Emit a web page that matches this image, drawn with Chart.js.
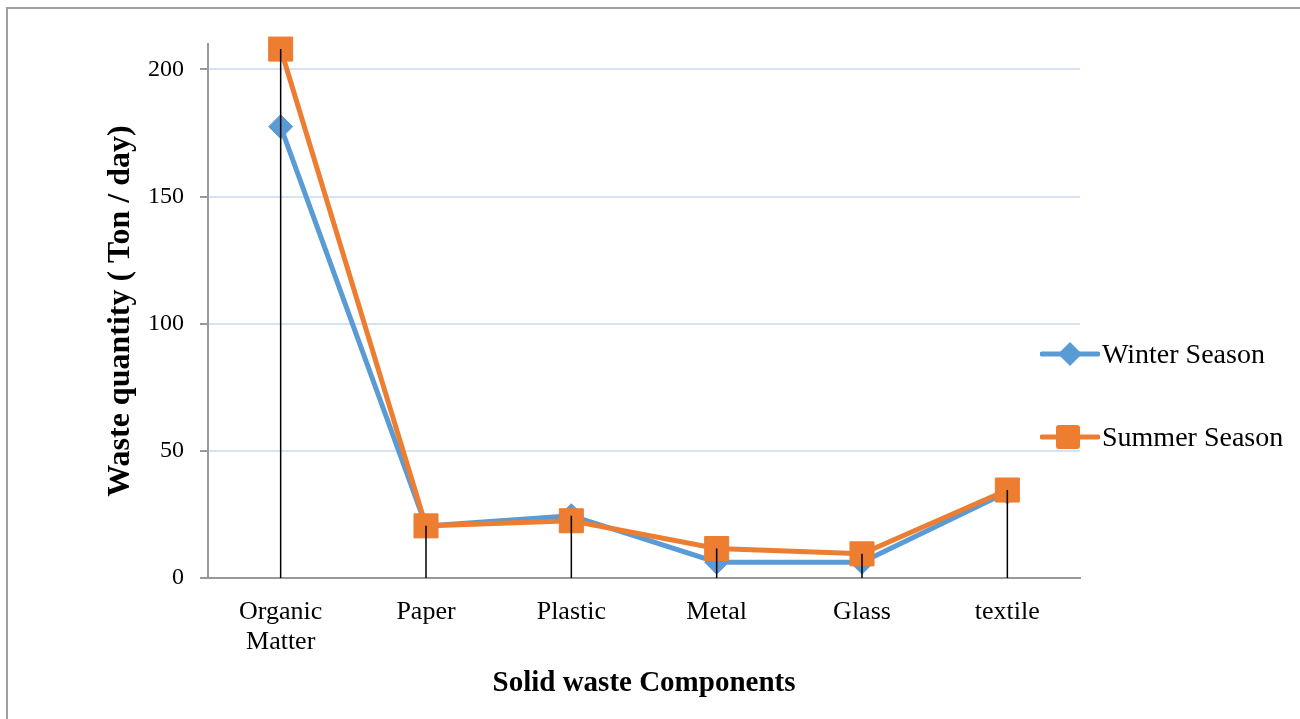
<!DOCTYPE html>
<html>
<head>
<meta charset="utf-8">
<script src="https://cdn.jsdelivr.net/npm/chart.js@4.4.0/dist/chart.umd.min.js"></script>
<style>
  body { margin: 0; background: #fff; }
  #wrap { position: relative; width: 1300px; height: 719px; }
  #frame { position: absolute; left: 6px; top: 7px; right: 0; bottom: 0;
           border-left: 2px solid #a0a0a0; border-top: 2px solid #a0a0a0; }
  .leg { position: absolute; left: 1040px; height: 30px; display: flex; align-items: center;
         font-family: 'Liberation Serif', 'Times New Roman', serif; font-size: 28px; color: #000; }
  .leg svg { margin-right: 2px; }
</style>
</head>
<body>
<div id="wrap">
  <div id="frame"></div>
  <canvas id="wasteChart" width="1300" height="719"></canvas>
  <div class="leg" style="top:339px">
    <svg width="60" height="30"><line x1="2" y1="15" x2="58" y2="15" stroke="#5b9bd5" stroke-width="5" stroke-linecap="round"/><polygon points="30,3 42,15 30,27 18,15" fill="#5b9bd5"/></svg>Winter Season
  </div>
  <div class="leg" style="top:422px">
    <svg width="60" height="30"><line x1="2" y1="15" x2="58" y2="15" stroke="#ed7d31" stroke-width="5" stroke-linecap="round"/><rect x="16" y="3" width="24" height="24" rx="3" fill="#ed7d31"/></svg>Summer Season
  </div>
</div>
<script>
// solid waste components
const categories = [['Organic', 'Matter'], 'Paper', 'Plastic', 'Metal', 'Glass', 'textile'];
const winterValues = [177.5, 20.5, 24.5, 6.2, 6.2, 33.8];
const summerValues = [208, 20.5, 22.5, 11.6, 9.5, 34.6];
const yTicks = [0, 50, 100, 150, 200];

const serif = "'Liberation Serif', 'Times New Roman', serif";

// Excel style drop lines, from the highest point down to the axis
const dropLines = {
    id: 'dropLines',
    afterDatasetsDraw(chart) {
        const ctx = chart.ctx;
        const x = chart.scales.x;
        const y = chart.scales.y;
        ctx.save();
        ctx.strokeStyle = '#000';
        ctx.lineWidth = 1.5;
        categories.forEach((c, i) => {
            const top = Math.max(winterValues[i], summerValues[i]);
            const px = x.getPixelForValue(i);
            ctx.beginPath();
            ctx.moveTo(px, y.getPixelForValue(top));
            ctx.lineTo(px, y.getPixelForValue(0));
            ctx.stroke();
        });
        ctx.restore();
    }
};

const ctx = document.getElementById('wasteChart').getContext('2d');
new Chart(ctx, {
    type: 'line',
    data: {
        labels: categories,
        datasets: [{
            label: 'Winter Season',
            data: winterValues,
            order: 2,
            clip: false,
            borderColor: '#5b9bd5',
            backgroundColor: '#5b9bd5',
            borderWidth: 5,
            pointStyle: 'rectRot',
            pointRadius: 12,
            pointBorderWidth: 1,
            fill: false
        }, {
            label: 'Summer Season',
            data: summerValues,
            order: 1,
            clip: false,
            borderColor: '#ed7d31',
            backgroundColor: '#ed7d31',
            borderWidth: 5,
            pointStyle: 'rect',
            pointRadius: 17,
            pointBorderWidth: 1,
            fill: false
        }]
    },
    options: {
        responsive: false,
        animation: false,
        layout: { padding: { left: 98, right: 220, top: 44, bottom: 14 } },
        plugins: {
            legend: { display: false },
            tooltip: { enabled: false }
        },
        scales: {
            x: {
                offset: true,
                grid: { display: false, drawTicks: false },
                border: { display: true, color: '#999', width: 2 },
                ticks: {
                    color: '#000',
                    padding: 19,
                    maxRotation: 0,
                    font: { family: serif, size: 26, lineHeight: 1.15 }
                },
                title: {
                    display: true,
                    text: 'Solid waste Components',
                    color: '#000',
                    font: { family: serif, size: 29, weight: 'bold' }
                },
                afterFit(scale) { scale.height = 127; }
            },
            y: {
                min: 0,
                max: 210,
                afterBuildTicks(scale) {
                    scale.ticks = yTicks.map(v => ({ value: v }));
                },
                grid: {
                    color: ctx => ctx.tick && ctx.tick.value === 0 ? 'rgba(0,0,0,0)' : '#d5e3f3',
                    lineWidth: 2,
                    tickColor: '#999',
                    tickLength: 8
                },
                border: { display: true, color: '#999', width: 2 },
                ticks: {
                    color: '#000',
                    padding: 16,
                    font: { family: serif, size: 24 }
                },
                title: {
                    display: true,
                    text: 'Waste quantity ( Ton / day)',
                    color: '#000',
                    font: { family: serif, size: 32, weight: 'bold' }
                },
                afterFit(scale) { scale.width = 110; }
            }
        }
    },
    plugins: [dropLines]
});
</script>
</body>
</html>
